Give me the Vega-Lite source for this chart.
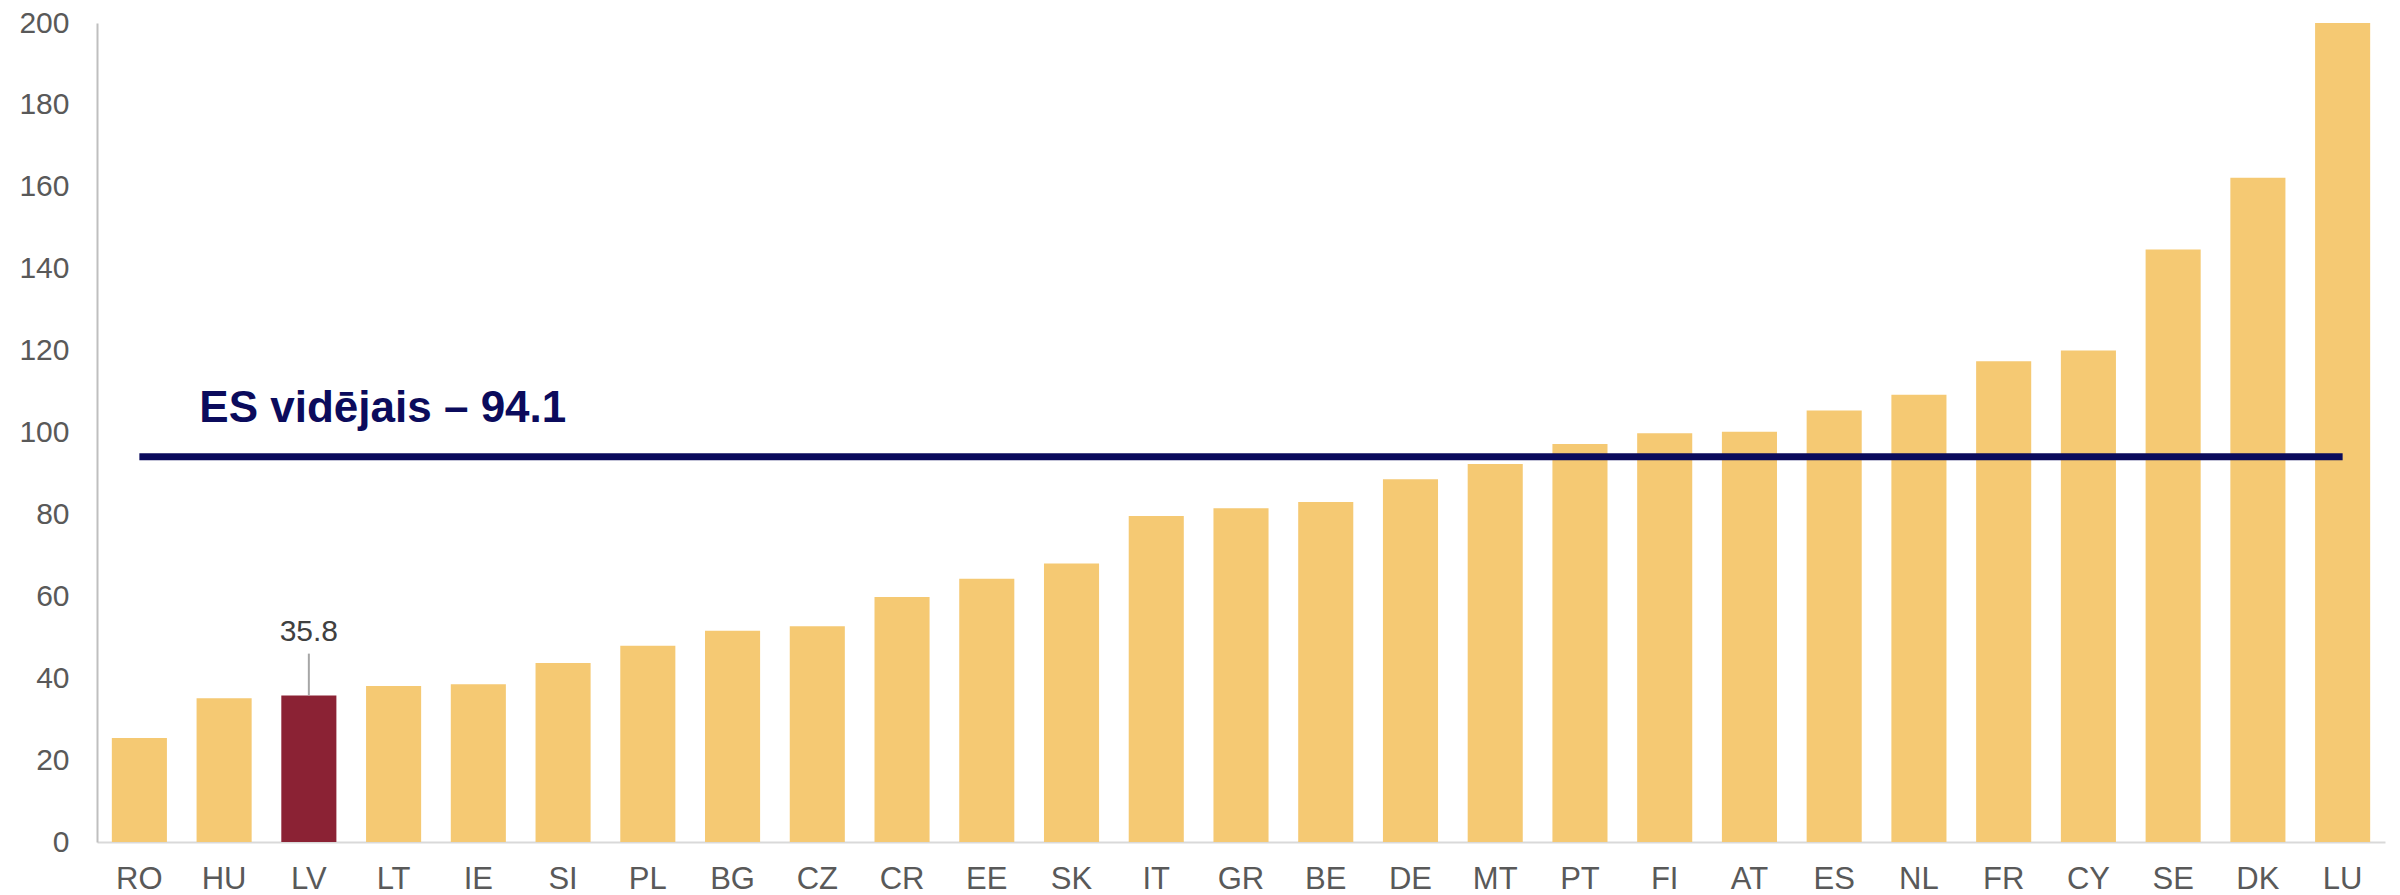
{
  "$schema": "https://vega.github.io/schema/vega-lite/v6.json",
  "width": 2288,
  "height": 819,
  "autosize": {"type": "none"},
  "padding": {"left": 97, "top": 23, "right": 15, "bottom": 53},
  "background": "white",
  "config": {
    "view": {"stroke": null},
    "font": "Liberation Sans"
  },
  "datasets": {
    "bars": [
      {"country": "RO", "value": 25.4},
      {"country": "HU", "value": 35.1},
      {"country": "LV", "value": 35.8},
      {"country": "LT", "value": 38.1},
      {"country": "IE", "value": 38.5},
      {"country": "SI", "value": 43.7},
      {"country": "PL", "value": 47.9},
      {"country": "BG", "value": 51.6},
      {"country": "CZ", "value": 52.7},
      {"country": "CR", "value": 59.8},
      {"country": "EE", "value": 64.3},
      {"country": "SK", "value": 68.0},
      {"country": "IT", "value": 79.6},
      {"country": "GR", "value": 81.5},
      {"country": "BE", "value": 83.0},
      {"country": "DE", "value": 88.6},
      {"country": "MT", "value": 92.3},
      {"country": "PT", "value": 97.2},
      {"country": "FI", "value": 99.8},
      {"country": "AT", "value": 100.2},
      {"country": "ES", "value": 105.4},
      {"country": "NL", "value": 109.2},
      {"country": "FR", "value": 117.4},
      {"country": "CY", "value": 120.0},
      {"country": "SE", "value": 144.7},
      {"country": "DK", "value": 162.2},
      {"country": "LU", "value": 200.0}
    ]
  },
  "layer": [
    {
      "data": {"name": "bars"},
      "mark": {"type": "bar", "clip": true},
      "encoding": {
        "x": {
          "field": "country",
          "type": "nominal",
          "sort": null,
          "scale": {"paddingInner": 0.35, "paddingOuter": 0.175},
          "axis": {
            "title": null,
            "labelAngle": 0,
            "labelFontSize": 31,
            "labelColor": "#595959",
            "labelPadding": 22,
            "ticks": false,
            "domainColor": "#d9d9d9",
            "domainWidth": 2
          }
        },
        "y": {
          "field": "value",
          "type": "quantitative",
          "scale": {"domain": [0, 200], "nice": false},
          "axis": {
            "title": null,
            "values": [0, 20, 40, 60, 80, 100, 120, 140, 160, 180, 200],
            "grid": false,
            "ticks": false,
            "labelFontSize": 30,
            "labelColor": "#595959",
            "labelPadding": 28,
            "domainColor": "#bfbfbf",
            "domainWidth": 2
          }
        },
        "color": {
          "condition": {"test": "datum.country === 'LV'", "value": "#8b2234"},
          "value": "#f5c973"
        }
      }
    },
    {
      "data": {"values": [{"from": "RO", "to": "LU", "avg": 94.1}]},
      "mark": {"type": "rule", "color": "#0b0b5c", "strokeWidth": 7},
      "encoding": {
        "x": {"field": "from", "type": "nominal", "sort": null},
        "x2": {"field": "to"},
        "y": {"field": "avg", "type": "quantitative"}
      }
    },
    {
      "data": {"values": [{"from": "RO", "avg": 94.1, "label": "ES vidējais – 94.1"}]},
      "mark": {"type": "text", "align": "left", "baseline": "alphabetic", "dx": 60, "dy": -35, "fontSize": 44, "fontWeight": "bold", "color": "#0b0b5c"},
      "encoding": {
        "x": {"field": "from", "type": "nominal", "sort": null},
        "y": {"field": "avg", "type": "quantitative"},
        "text": {"field": "label"}
      }
    },
    {
      "data": {"name": "bars"},
      "transform": [{"filter": "datum.country === 'LV'"}],
      "mark": {"type": "rule", "color": "#a6a6a6", "strokeWidth": 2},
      "encoding": {
        "x": {"field": "country", "type": "nominal", "sort": null},
        "y": {"field": "value", "type": "quantitative"},
        "y2": {"datum": 46}
      }
    },
    {
      "data": {"name": "bars"},
      "transform": [{"filter": "datum.country === 'LV'"}],
      "mark": {"type": "text", "baseline": "alphabetic", "align": "center", "dy": -54, "fontSize": 30, "color": "#404040"},
      "encoding": {
        "x": {"field": "country", "type": "nominal", "sort": null},
        "y": {"field": "value", "type": "quantitative"},
        "text": {"field": "value", "type": "quantitative", "format": ".1f"}
      }
    }
  ]
}
